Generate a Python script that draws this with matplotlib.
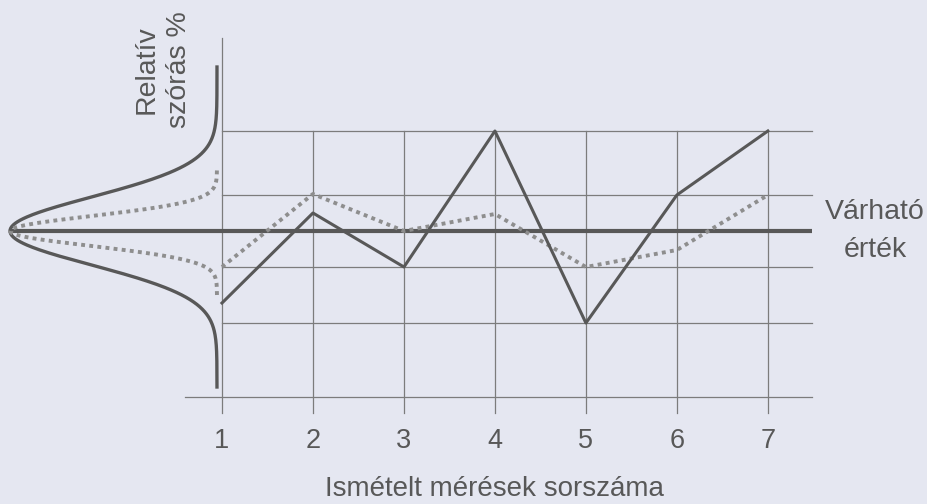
import numpy as np
import matplotlib
matplotlib.use('Agg')
import matplotlib.pyplot as plt

plt.rcParams['font.family'] = ['Liberation Sans', 'DejaVu Sans']

meres = [1, 2, 3, 4, 5, 6, 7]
tick_labels = ['1', '2', '3', '4', '5', '6', '7']
szoras_nagy = [-7.2, 1.8, -3.6, 10.0, -9.2, 3.6, 10.0]   # solid line
szoras_kicsi = [-3.6, 3.7, 0.0, 1.7, -3.6, -1.9, 3.6]    # dotted line
grid_y = [10.0, 3.6, -3.6, -9.2, -16.6]
varhato = 0.0

# bell curves on the left (sigma, vertical extent)
sigma_nagy, extent_nagy = 3.4, (-15.6, 16.4)
sigma_kicsi, extent_kicsi = 1.5, (-6.4, 6.3)

BG = '#e5e7f1'
DARK = '#585858'
GRID = '#7c7c7c'
DOT = '#8e8e8e'
TEXT = '#585858'

fig = plt.figure(figsize=(9.28, 5.04), dpi=100, facecolor=BG)
ax = fig.add_axes([0, 0, 1, 1])
ax.set_facecolor(BG)
ax.set_xlim(-1.44, 8.76)
ax.set_ylim(-27.3, 23.1)
ax.axis('off')

x_tip, x_asym = -1.33, 0.945
x_right = 7.48

# grid
for i, gy in enumerate(grid_y):
    x0 = 0.59 if i == len(grid_y) - 1 else 1
    ax.plot([x0, x_right], [gy, gy], color=GRID, lw=0.9, zorder=1)
for m in meres:
    top = 19.3 if m == 1 else grid_y[0]
    ax.plot([m, m], [top, -18.2], color=GRID, lw=0.9, zorder=1)

# expected value
ax.plot([x_tip, x_right], [varhato, varhato], color=DARK, lw=3.0,
        solid_capstyle='butt', zorder=3)

# bell curves
y1 = np.linspace(extent_nagy[0], extent_nagy[1], 400)
ax.plot(x_asym - (x_asym - x_tip) * np.exp(-0.5 * (y1 / sigma_nagy) ** 2), y1,
        color=DARK, lw=2.4, zorder=3)
y2 = np.linspace(extent_kicsi[0], extent_kicsi[1], 400)
ax.plot(x_asym - (x_asym - x_tip) * np.exp(-0.5 * (y2 / sigma_kicsi) ** 2), y2,
        color=DOT, lw=2.8, linestyle=(0, (1, 1.1)), dash_capstyle='butt', zorder=3)

# measurement series
ax.plot(meres, szoras_kicsi, color=DOT, lw=2.8, linestyle=(0, (1, 1.1)),
        dash_capstyle='butt', zorder=4)
ax.plot(meres, szoras_nagy, color=DARK, lw=2.2, zorder=5)

# texts
for m, lab in zip(meres, tick_labels):
    ax.text(m, -21.0, lab, ha='center', va='center', fontsize=19.5, color=TEXT)
ax.text(4.0, -25.8, 'Ismételt mérések sorszáma', ha='center', va='center',
        fontsize=20, color=TEXT)
ax.text(8.18, 0.0, 'Várható\nérték', ha='center', va='center', fontsize=20.5,
        color=TEXT, linespacing=1.6)
ax.text(0.35, 16.1, 'Relatív\nszórás %', ha='center', va='center', fontsize=20.5,
        color=TEXT, rotation=90, linespacing=1.35, multialignment='center')

fig.savefig('out.png', dpi=100, facecolor=BG)
